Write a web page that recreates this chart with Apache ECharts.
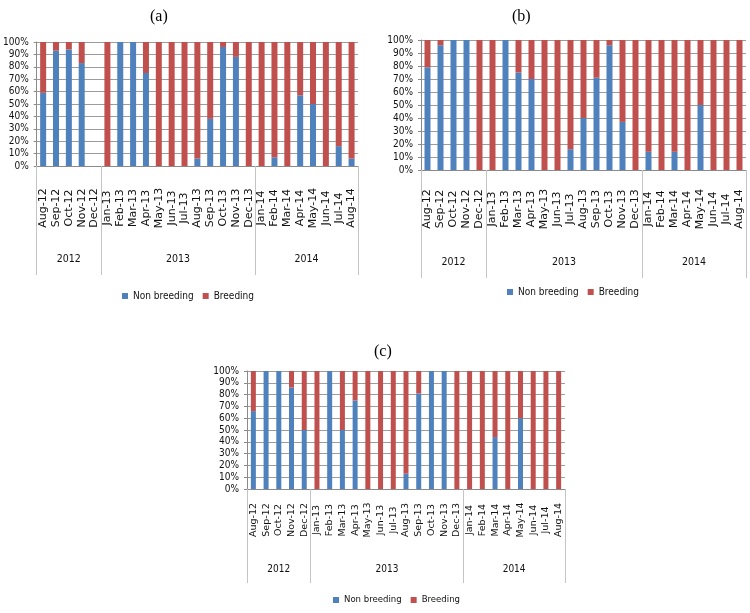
<!DOCTYPE html>
<html>
<head>
<meta charset="utf-8">
<script src="https://cdn.jsdelivr.net/npm/echarts@6/dist/echarts.min.js"></script>
<style>
html,body{margin:0;padding:0;background:#fff;}
#chart{width:750px;height:613px;}
</style>
</head>
<body>
<div id="chart"></div>
<script>
// ---- Data ----
const months = ['Aug-12','Sep-12','Oct-12','Nov-12','Dec-12','Jan-13','Feb-13','Mar-13','Apr-13','May-13','Jun-13','Jul-13','Aug-13','Sep-13','Oct-13','Nov-13','Dec-13','Jan-14','Feb-14','Mar-14','Apr-14','May-14','Jun-14','Jul-14','Aug-14'];
const years = ['2012','2013','2014'];
const monthsPerYear = [5, 12, 8];
const yTickValues = [0,10,20,30,40,50,60,70,80,90,100];
const seriesNames = ['Non breeding','Breeding'];
const panelTitles = ['(a)','(b)','(c)'];

// Panel (a)
const nonBreedingA = [59,93,94,83,null,0,100,100,75,0,0,0,6,38,96,88,0,0,7,0,57,50,0,16,6];
const breedingA    = [41,7,6,17,null,100,0,0,25,100,100,100,94,62,4,12,100,100,93,100,43,50,100,84,94];
// Panel (b)
const nonBreedingB = [79,96,100,100,0,0,100,75,70,0,0,16,40,71,96,37,0,14,0,14,0,50,0,0,0];
const breedingB    = [21,4,0,0,100,100,0,25,30,100,100,84,60,29,4,63,100,86,100,86,100,50,100,100,100];
// Panel (c)
const nonBreedingC = [66,100,100,86,50,0,100,50,75,0,0,0,13,81,100,100,0,0,0,44,0,60,0,0,0];
const breedingC    = [34,0,0,14,50,100,0,50,25,100,100,100,87,19,0,0,100,100,100,56,100,40,100,100,100];

// ---- Build year axis (half-month slots so labels sit at group centres) ----
const yearSlots = new Array(months.length * 2 + 1).fill('');
const yearBounds = [0];
let acc = 0;
monthsPerYear.forEach((n, i) => {
  yearSlots[2 * acc + n] = years[i];
  acc += n;
  yearBounds.push(2 * acc);
});
const boundSet = new Set(yearBounds);

const NARROW = "'Liberation Sans Narrow', 'DejaVu Sans Condensed', sans-serif";
const BLUE = '#4F81BD', RED = '#C0504D';

const panels = [
  {grid:{left:34, top:42, width:324, height:124}, mFont:11, mMargin:42, mTick:70, yFont:10.5, yMargin:88, yTick:109, yLab:10, bar:6,
   nb: nonBreedingA, br: breedingA, title:{left:145, top:4}, legend:{left:122, top:291}, legFont:10},
  {grid:{left:421, top:40, width:325, height:130}, mFont:11, mMargin:39, mTick:67, yFont:10.5, yMargin:87, yTick:108, yLab:10, bar:6,
   nb: nonBreedingB, br: breedingB, title:{left:507, top:4}, legend:{left:507, top:287}, legFont:10},
  {grid:{left:247, top:371, width:318, height:118}, mFont:9.5, mMargin:31, mTick:59, yFont:10, yMargin:75, yTick:94, yLab:10, bar:5,
   nb: nonBreedingC, br: breedingC, title:{left:369, top:339}, legend:{left:333, top:595}, legFont:9.5}
];

const option = {
  animation:false,
  backgroundColor:'#fff',
  title:[], legend:[], grid:[], xAxis:[], yAxis:[], series:[]
};

panels.forEach((p, gi) => {
  option.title.push({text: panelTitles[gi], left:p.title.left, top:p.title.top,
    textStyle:{fontFamily:"'Liberation Serif', serif", fontSize:16, fontWeight:'normal', color:'#000'}});
  option.legend.push({data: seriesNames, left:p.legend.left, top:p.legend.top, padding:0, itemWidth:6, itemHeight:6, itemGap:9,
    icon:'rect', textStyle:{fontFamily:NARROW, fontSize:p.legFont, color:'#111'}});
  option.grid.push(Object.assign({containLabel:false}, p.grid));
  option.xAxis.push({
    type:'category', gridIndex:gi, data:months, position:'bottom',
    axisLine:{lineStyle:{color:'#8a8a8a'}},
    axisTick:{interval:0, length:p.mTick, lineStyle:{color:'#c4c4c4'}},
    axisLabel:{interval:0, rotate:90, align:'center', verticalAlign:'middle', margin:p.mMargin,
      fontFamily:"'DejaVu Sans', sans-serif", fontSize:p.mFont, color:'#111'},
    splitLine:{show:false}
  });
  option.xAxis.push({
    type:'category', gridIndex:gi, data:yearSlots, boundaryGap:false, position:'bottom',
    axisLine:{show:false},
    axisTick:{show:true, interval:(i)=>boundSet.has(i), length:p.yTick, lineStyle:{color:'#c4c4c4'}},
    axisLabel:{interval:0, margin:p.yMargin, fontFamily:NARROW, fontSize:p.yFont, color:'#111'},
    splitLine:{show:false}
  });
  option.yAxis.push({
    type:'value', gridIndex:gi, min:yTickValues[0], max:yTickValues[yTickValues.length-1], interval:yTickValues[1]-yTickValues[0],
    axisLine:{show:true, lineStyle:{color:'#8a8a8a'}},
    axisTick:{show:true, length:3, lineStyle:{color:'#8a8a8a'}},
    axisLabel:{formatter:'{value}%', fontFamily:NARROW, fontSize:p.yLab, color:'#111', margin:8},
    splitLine:{lineStyle:{color:'#9c9c9c', width:1}}
  });
  [p.nb, p.br].forEach((vals, si) => {
    option.series.push({
      name: seriesNames[si], type:'bar', stack:'s'+gi, xAxisIndex:gi*2, yAxisIndex:gi,
      data: vals, barWidth:p.bar, itemStyle:{color: si===0 ? BLUE : RED}
    });
  });
});

const chart = echarts.init(document.getElementById('chart'), null, {renderer:'canvas'});
chart.setOption(option);
</script>
</body>
</html>
